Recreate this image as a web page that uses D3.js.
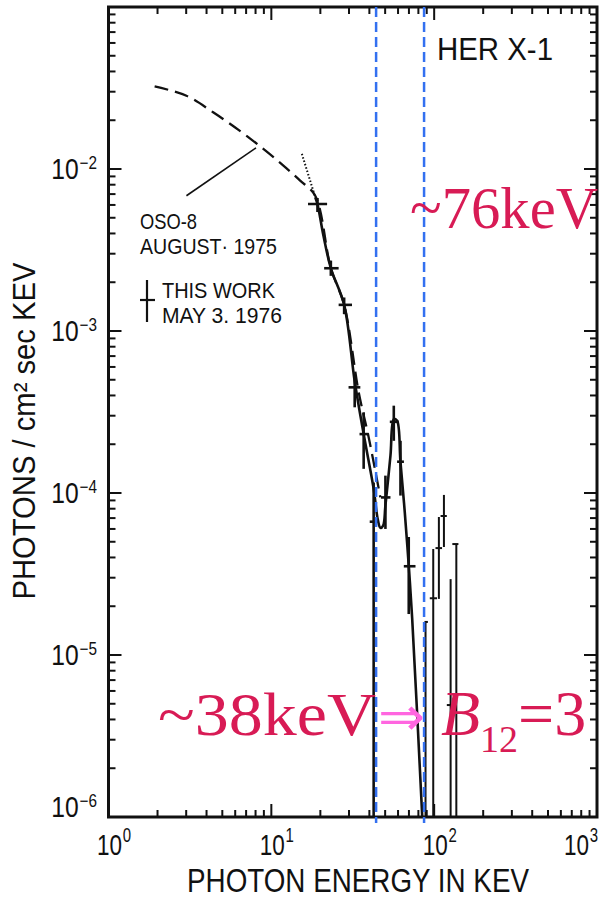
<!DOCTYPE html>
<html><head><meta charset="utf-8">
<script src="https://cdn.jsdelivr.net/npm/d3@7"></script>
<style>html,body{margin:0;padding:0;background:#fff;} svg{display:block;}</style>
</head><body><svg id="c" width="607" height="900"></svg>
<script>
// ---------------- data ----------------
const xDecades = [1, 10, 100, 1000];
const xTickSup = ["0", "1", "2", "3"];
const yDecades = [1e-2, 1e-3, 1e-4, 1e-5, 1e-6];
const yTickSup = ["\u22122", "\u22123", "\u22124", "\u22125", "\u22126"];

// OSO-8 (August 1975) dashed spectrum
const osoE = [1.92, 3.01, 4.39, 6.41, 8.93, 11.86, 15.03, 18.6, 23.2, 28.0, 34.4, 39.6, 46.7];
const osoF = [3.24e-2, 2.83e-2, 2.24e-2, 1.72e-2, 1.33e-2, 1.05e-2, 8.47e-3, 6.84e-3, 2.44e-3, 1.45e-3, 4.19e-4, 2.21e-4, 9.41e-5];
// dotted extrapolation
const dotE = [15.4, 18.6];
const dotF = [1.24e-2, 6.7e-3];
// solid fitted curve (this work)
const fitE = [18.6, 19.2, 20.9, 23.2, 28.0, 32.5, 36.9, 42.5, 45.0, 46.7, 48.6, 50.2, 53.9, 56.5, 59.2, 62.1, 66.0, 69.8, 73.3, 84.5];
const fitF = [6.7e-3, 6.08e-3, 3.87e-3, 2.44e-3, 1.45e-3, 4.9e-4, 2.31e-4, 1.06e-4, 6.9e-5, 6.1e-5, 6.3e-5, 8.4e-5, 1.7e-4, 2.86e-4, 2.79e-4, 1.55e-4, 7.6e-5, 3.56e-5, 1.67e-5, 1.0e-6];
// data points with error bars (null lower = down to the axis)
const ptE   = [19.2, 23.2, 28.0, 32.5, 36.9, 42.5, 50.2, 56.5, 62.1, 69.8, 88.5, 98.7, 106.9, 114.8, 126.2, 136.8];
const ptF   = [6.08e-3, 2.44e-3, 1.45e-3, 4.49e-4, 2.31e-4, 6.65e-5, 9.39e-5, 2.75e-4, 1.56e-4, 3.53e-5, 1.6e-5, 2.24e-5, 4.57e-5, 7.21e-5, 4.91e-6, 4.84e-5];
const ptElo = [16.8, 21.1, 25.9, 29.8, 34.8, 40.2, 47.1, 53.4, 59.2, 65.1, 87.2, 94.0, 101.9, 109.5, 119.6, 129.3];
const ptEhi = [22.0, 25.9, 31.3, 35.2, 39.6, 45.6, 53.9, 60.6, 65.2, 76.8, 91.5, 104.1, 111.8, 119.6, 129.3, 140.9];
const ptFlo = [5.43e-3, 2.19e-3, 1.27e-3, 3.38e-4, 1.41e-4, null, 6.0e-5, 2.10e-4, 9.64e-5, 1.79e-5, null, null, 2.22e-5, 4.64e-5, null, null];
const ptFhi = [6.62e-3, 2.72e-3, 1.61e-3, 5.30e-4, 3.15e-4, 1.16e-4, 1.28e-4, 3.46e-4, 2.10e-4, 5.35e-5, 1.6e-5, 4.51e-5, 7.11e-5, 9.73e-5, 2.94e-5, 4.84e-5];
// pointer from the OSO-8 label to its curve
const pointerE = [3.01, 8.05];
const pointerF = [6.84e-3, 1.35e-2];
// cyclotron-line markers
const markerE = [44.0, 86.7];
const markerText = ["~38keV", "~76keV"];
const arrowText = "\u21D2";
const bLabel = ["B", "12", "=3"];
const legendText = ["OSO-8", "AUGUST\u00B7 1975", "THIS WORK", "MAY 3. 1976"];
const titleText = "HER X-1";
const xTitle = "PHOTON ENERGY IN KEV";
const yTitle = "PHOTONS / cm\u00B2 sec KEV";

// ---------------- layout ----------------
const L = 108.5, R = 597, T = 7, B = 817;
const ink = "#111";
const red = "#d81b55";
const SANS = "'Liberation Sans', Arial, sans-serif";
const SERIF = "'Liberation Serif', 'Times New Roman', serif";

const svg = d3.select("#c");
const x = d3.scaleLog().domain([1, 1000]).range([L, R]);
const y = d3.scaleLog().domain([1e-6, 1e-1]).range([B, T]);

svg.append("defs").append("clipPath").attr("id", "plot")
  .append("rect").attr("x", L).attr("y", T).attr("width", R - L).attr("height", B - T);

function addText(sel, str, px, py, size, o = {}) {
  const t = sel.append("text").attr("x", px).attr("y", py)
    .attr("font-size", size).attr("font-family", o.family || SANS)
    .attr("fill", o.fill || ink).text(str);
  if (o.width) t.attr("textLength", o.width).attr("lengthAdjust", "spacingAndGlyphs");
  if (o.anchor) t.attr("text-anchor", o.anchor);
  if (o.style) t.attr("font-style", o.style);
  return t;
}

// power-of-ten label: one text element, condensed by a horizontal scale
function powLabel(sel, sup, px, py, size, supSize, rise, sx, anchor) {
  const g = sel.append("g").attr("transform", `translate(${px},${py}) scale(${sx},1)`);
  const t = g.append("text").attr("x", 0).attr("y", 0).attr("font-family", SANS)
    .attr("font-size", size).attr("fill", ink).attr("text-anchor", anchor);
  t.append("tspan").text("10");
  t.append("tspan").attr("font-size", supSize).attr("dx", 1).attr("dy", -rise).text(sup);
  return t;
}

// ---------------- ticks ----------------
const tk = svg.append("g").attr("stroke", ink).attr("stroke-width", 2);
const xTicks = [];
[1, 10, 100].forEach(d => { for (let m = 1; m <= 9; m++) xTicks.push({v: d * m, major: m === 1}); });
xTicks.push({v: 1000, major: true});
xTicks.forEach(t => {
  const len = t.major ? 13 : 7, px = x(t.v);
  tk.append("line").attr("x1", px).attr("x2", px).attr("y1", B).attr("y2", B - len);
  tk.append("line").attr("x1", px).attr("x2", px).attr("y1", T).attr("y2", T + len);
});
const yTicks = [];
[1e-6, 1e-5, 1e-4, 1e-3, 1e-2].forEach(d => { for (let m = 1; m <= 9; m++) yTicks.push({v: d * m, major: m === 1}); });
yTicks.push({v: 1e-1, major: true});
yTicks.forEach(t => {
  const len = t.major ? 13 : 7, py = y(t.v);
  tk.append("line").attr("y1", py).attr("y2", py).attr("x1", L).attr("x2", L + len);
  tk.append("line").attr("y1", py).attr("y2", py).attr("x1", R).attr("x2", R - len);
});

// frame
svg.append("rect").attr("x", L).attr("y", T).attr("width", R - L).attr("height", B - T)
  .attr("fill", "none").attr("stroke", ink).attr("stroke-width", 3);

// tick labels
const tl = svg.append("g");
xDecades.forEach((d, i) => {
  const px = x(d);
  const last = i === xDecades.length - 1;
  if (last) powLabel(tl, xTickSup[i], px + 1, B + 38, 30, 20, 13, 0.75, "end");
  else powLabel(tl, xTickSup[i], px - 11.5, B + 38, 30, 20, 13, 0.75, "start");
});
yDecades.forEach((d, i) => {
  const py = y(d);
  const off = (i === yDecades.length - 1) ? -10 : 0;
  powLabel(tl, yTickSup[i], 97, py + 10 + off, 29, 18, 10, 0.85, "end");
});

// axis titles
addText(svg, xTitle, (187 + 529) / 2, 892, 34, {width: 342, anchor: "middle"});
addText(svg.append("g").attr("transform", "translate(35,431) rotate(-90)"), yTitle, 0, 0, 31, {width: 337, anchor: "middle"});

// ---------------- curves ----------------
const plot = svg.append("g").attr("clip-path", "url(#plot)");
const line = d3.line().x(d => x(d[0])).y(d => y(d[1])).curve(d3.curveCatmullRom.alpha(0.5));

plot.append("path").datum(d3.zip(osoE, osoF)).attr("d", line)
  .attr("fill", "none").attr("stroke", ink).attr("stroke-width", 2.3).attr("stroke-dasharray", "14,7");
plot.append("path").datum(d3.zip(dotE, dotF)).attr("d", d3.line().x(d => x(d[0])).y(d => y(d[1])))
  .attr("fill", "none").attr("stroke", ink).attr("stroke-width", 2).attr("stroke-dasharray", "1.5,2");
plot.append("path").datum(d3.zip(fitE, fitF)).attr("d", line)
  .attr("fill", "none").attr("stroke", ink).attr("stroke-width", 2.6);

// pointer
plot.append("line").attr("x1", x(pointerE[0])).attr("y1", y(pointerF[0]))
  .attr("x2", x(pointerE[1])).attr("y2", y(pointerF[1]))
  .attr("stroke", ink).attr("stroke-width", 1.6);

// error bars
const eb = plot.append("g").attr("stroke", ink);
ptE.forEach((e, i) => {
  const sw = i < 10 ? 2.6 : 2;
  const yLo = ptFlo[i] === null ? B + 2 : y(ptFlo[i]);
  eb.append("line").attr("x1", x(e)).attr("x2", x(e)).attr("y1", y(ptFhi[i])).attr("y2", yLo).attr("stroke-width", sw);
  eb.append("line").attr("x1", x(ptElo[i])).attr("x2", x(ptEhi[i])).attr("y1", y(ptF[i])).attr("y2", y(ptF[i])).attr("stroke-width", sw);
});

// legend
const lg = svg.append("g");
addText(lg, legendText[0], 140, 229, 22, {width: 57});
addText(lg, legendText[1], 140, 254, 22, {width: 137});
lg.append("line").attr("x1", 147).attr("x2", 147).attr("y1", 280).attr("y2", 322).attr("stroke", ink).attr("stroke-width", 2.2);
lg.append("line").attr("x1", 140).attr("x2", 155).attr("y1", 300).attr("y2", 300).attr("stroke", ink).attr("stroke-width", 2.2);
addText(lg, legendText[2], 162, 298, 22, {width: 113});
addText(lg, legendText[3], 162, 323, 22, {width: 120});
addText(svg, titleText, 437, 60, 31, {width: 116});

// ---------------- markers ----------------
const mk = svg.append("g");
markerE.forEach(e => {
  mk.append("line").attr("x1", x(e)).attr("x2", x(e)).attr("y1", T).attr("y2", B + 6)
    .attr("stroke", "#3370f0").attr("stroke-width", 2.5).attr("stroke-dasharray", "10,5");
});
addText(mk, markerText[0], 158, 735, 62, {family: SERIF, fill: red, width: 218});
addText(mk, markerText[1], 410, 228, 60, {family: SERIF, fill: red, width: 188});
addText(mk, arrowText, 378, 735, 54, {family: "'DejaVu Sans', sans-serif", fill: "#ff66e0", width: 47});
const bt = mk.append("text").attr("x", 441).attr("y", 735).attr("font-family", SERIF)
  .attr("font-size", 64).attr("fill", red);
bt.append("tspan").attr("font-style", "italic").text(bLabel[0]);
bt.append("tspan").attr("font-size", 38).attr("dy", 17).text(bLabel[1]);
bt.append("tspan").attr("font-size", 64).attr("dy", -17).text(bLabel[2]);
</script></body></html>
